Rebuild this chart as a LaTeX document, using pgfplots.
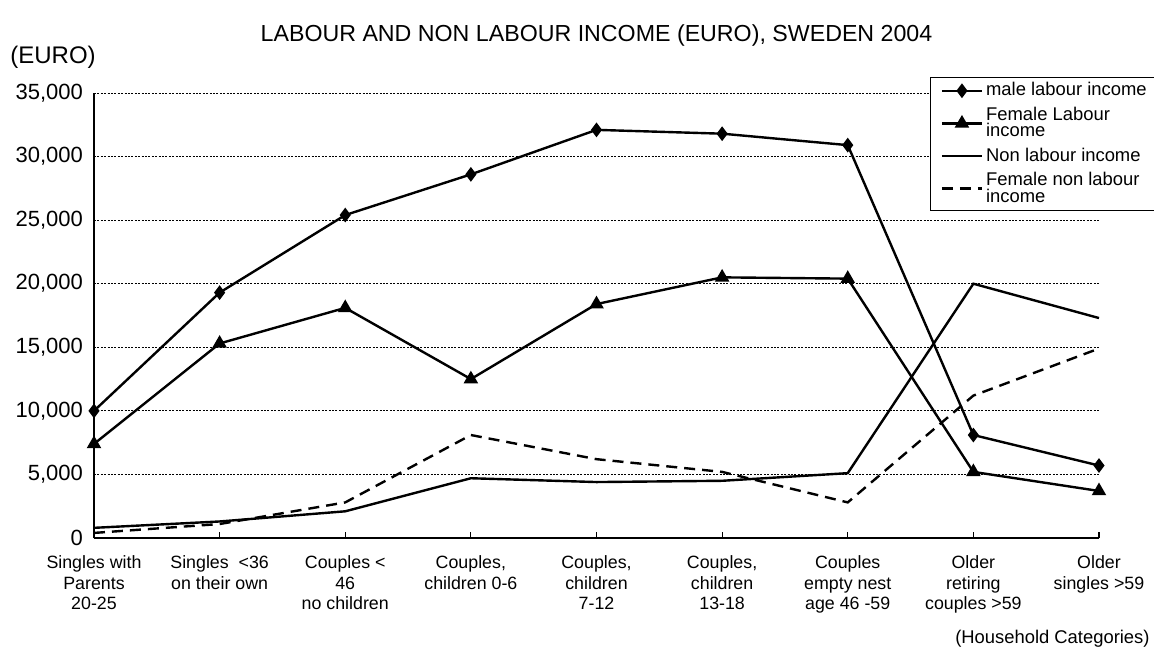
\documentclass[border=0pt]{standalone}
\usepackage{fontspec}
\setmainfont{Liberation Sans}
\usepackage{pgfplots}
\pgfplotsset{compat=1.18}

\begin{document}
\begin{tikzpicture}
\begin{axis}[
  name=ax,
  scale only axis,
  width=502.5pt, height=222.5pt,
  xmin=0, xmax=8,
  ymin=0, ymax=35000,
  clip=false,
  axis x line=bottom, axis y line=left,
  axis line style={-, line width=0.9pt},
  xtick={0,...,8},
  xticklabels={
    {Singles with\\Parents\\20-25},
    {Singles\ \ <36\\on their own},
    {Couples <\\46\\no children},
    {Couples,\\children 0-6},
    {Couples,\\children\\7-12},
    {Couples,\\children\\13-18},
    {Couples\\empty nest\\age 46 -59},
    {Older\\retiring\\couples >59},
    {Older\\singles >59}},
  xticklabel style={align=center, font=\fontsize{8.9}{10.2}\selectfont, yshift=-5.5pt},
  x tick style={line width=0.6pt, black},
  tick align=inside,
  major tick length=3pt,
  ytick={0,5000,...,35000},
  y tick style={draw=none},
  yticklabel style={font=\fontsize{11}{13}\selectfont, xshift=-2pt},
  /pgf/number format/assume math mode=true,
  /pgf/number format/1000 sep={,},
  scaled y ticks=false,
  ymajorgrids,
  grid style={line width=0.4pt, black, dash pattern=on 1pt off 0.7pt},
  title={LABOUR AND NON LABOUR INCOME (EURO), SWEDEN 2004},
  title style={at={(0.5,1)}, anchor=base, yshift=19.5pt, font=\fontsize{11.6}{13}\selectfont},
  legend style={at={(0.832,1.036)}, anchor=north west, draw=black, line width=0.6pt,
    font=\fontsize{9.2}{8.3}\selectfont, nodes={align=left, inner sep=1.5pt},
    row sep=1pt, inner xsep=5pt, inner ysep=1pt},
  legend cell align=left,
  legend image code/.code={
    \draw[mark repeat=2, mark phase=2, #1, line width=1.2pt]
      plot coordinates {(0pt,0pt) (10pt,0pt) (20pt,0pt)};},
  every axis plot/.append style={line width=1.2pt, black},
]
\addplot[mark=diamond*, mark size=2.7pt, mark options={solid}] coordinates {
  (0,10000) (1,19300) (2,25400) (3,28600) (4,32100) (5,31800) (6,30900) (7,8100) (8,5700)
};
\addlegendentry{male labour income}
\addplot[mark=triangle*, mark size=3pt, mark options={solid}] coordinates {
  (0,7400) (1,15300) (2,18100) (3,12500) (4,18400) (5,20500) (6,20400) (7,5200) (8,3700)
};
\addlegendentry{Female Labour\\income}
\addplot[no marks] coordinates {
  (0,800) (1,1300) (2,2100) (3,4700) (4,4400) (5,4500) (6,5100) (7,20000) (8,17300)
};
\addlegendentry{Non labour income}
\addplot[no marks, dash pattern=on 5.5pt off 3.5pt] coordinates {
  (0,400) (1,1100) (2,2800) (3,8100) (4,6200) (5,5200) (6,2800) (7,11200) (8,14900)
};
\addlegendentry{Female non labour\\income}
\end{axis}
\node[anchor=base west, font=\fontsize{12}{14}\selectfont, inner sep=0pt]
  at ([xshift=-42pt, yshift=14.5pt]ax.north west) {(EURO)};
\node[anchor=base east, font=\fontsize{9.2}{10}\selectfont, inner sep=0pt]
  at ([xshift=25.5pt, yshift=-52.5pt]ax.south east) {(Household Categories)};
\pgfresetboundingbox
\path (ax.south west) ++(-47pt,-55pt) rectangle ++(577pt,324pt);
\end{tikzpicture}
\end{document}
